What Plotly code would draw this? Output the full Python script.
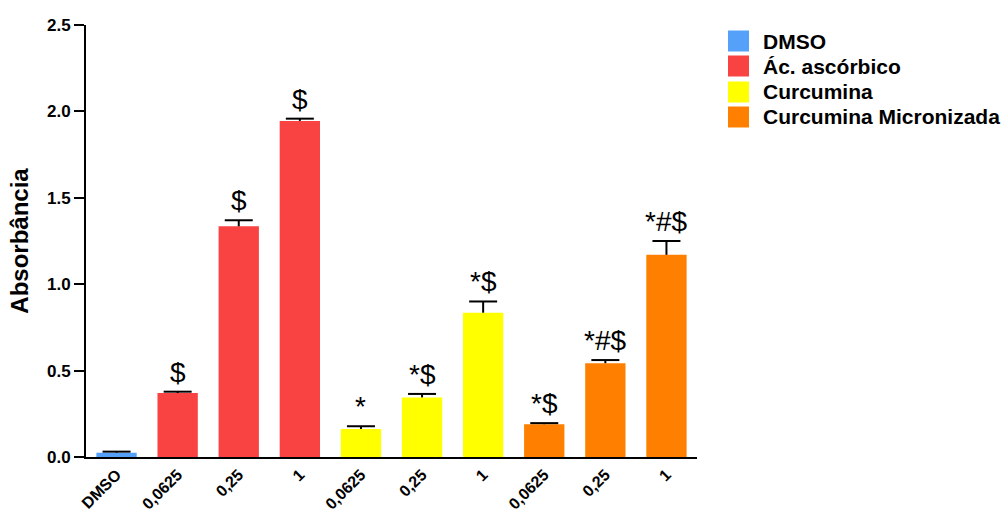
import plotly.graph_objects as go

groups = ["DMSO", "Ác. ascórbico", "Curcumina", "Curcumina Micronizada"]
colors = ["#55A0F8", "#F94242", "#FFFF00", "#FF8000"]
tick_labels = ["DMSO", "0,0625", "0,25", "1", "0,0625", "0,25", "1", "0,0625", "0,25", "1"]

dmso_vals = [0.025]
dmso_err = [0.006]
asc_vals = [0.37, 1.335, 1.945]
asc_err = [0.008, 0.035, 0.013]
cur_vals = [0.162, 0.345, 0.835]
cur_err = [0.016, 0.02, 0.065]
curm_vals = [0.19, 0.543, 1.17]
curm_err = [0.006, 0.018, 0.08]

dmso_sig = [""]
asc_sig = ["$", "$", "$"]
cur_sig = ["*", "*$", "*$"]
curm_sig = ["*$", "*#$", "*#$"]

series = [
    (dmso_vals, dmso_err, dmso_sig),
    (asc_vals, asc_err, asc_sig),
    (cur_vals, cur_err, cur_sig),
    (curm_vals, curm_err, curm_sig),
]

FONT = "Liberation Sans, Arial, sans-serif"
fig = go.Figure()
pos = 0
annotations = []
for name, color, (vals, errs, sigs) in zip(groups, colors, series):
    xs = list(range(pos, pos + len(vals)))
    pos += len(vals)
    fig.add_trace(go.Bar(
        x=xs, y=vals, name=name, marker=dict(color=color, line=dict(width=0)),
        width=0.66, showlegend=False,
        error_y=dict(type="data", array=errs, arrayminus=[0] * len(errs), symmetric=False,
                     color="black", thickness=2, width=0),
    ))
    # error bar caps (upper only)
    fig.add_trace(go.Scatter(
        x=xs, y=[v + e for v, e in zip(vals, errs)], mode="markers", showlegend=False,
        hoverinfo="skip",
        marker=dict(symbol="line-ew", size=20, line=dict(width=2, color="black"), color="black"),
    ))
    for x, v, e, s in zip(xs, vals, errs, sigs):
        if s:
            annotations.append(dict(x=x, y=v + e, text=s, showarrow=False, xref="x", yref="y",
                                    yanchor="bottom", yshift=2,
                                    font=dict(family=FONT, size=28, color="black")))

# custom legend
L, T, W = 86, 25, 611
H = 432
shapes = []
row_y = [41, 66, 92, 117]
for i, (name, color) in enumerate(zip(groups, colors)):
    cy = row_y[i]
    shapes.append(dict(type="rect", xref="paper", yref="paper",
                       x0=(728 - L) / W, x1=(749 - L) / W,
                       y0=(T + H - (cy + 10.5)) / H, y1=(T + H - (cy - 10.5)) / H,
                       fillcolor=color, line=dict(width=0)))
    annotations.append(dict(x=(761 - L) / W, y=(T + H - cy) / H, xref="paper", yref="paper",
                            text="<b>%s</b>" % name, showarrow=False, xanchor="left", yanchor="middle",
                            font=dict(family=FONT, size=21, color="black")))

fig.update_layout(
    width=1008, height=522,
    margin=dict(l=86, r=311, t=25, b=65),
    plot_bgcolor="white", paper_bgcolor="white",
    font=dict(family=FONT, color="black"),
    annotations=annotations, shapes=shapes,
    xaxis=dict(range=[-0.5, 9.5], tickmode="array", tickvals=list(range(10)),
               ticktext=["<b>%s</b>" % t for t in tick_labels], tickangle=-45,
               tickfont=dict(family=FONT, size=16), showline=True, linecolor="black", linewidth=2,
               ticks="", showgrid=False, zeroline=False, automargin=False),
    yaxis=dict(range=[0, 2.5], tickvals=[0, 0.5, 1.0, 1.5, 2.0, 2.5],
               ticktext=["<b>0.0</b>", "<b>0.5</b>", "<b>1.0</b>", "<b>1.5</b>", "<b>2.0</b>", "<b>2.5</b>"],
               tickfont=dict(family=FONT, size=17), showline=True, linecolor="black", linewidth=2,
               ticks="outside", ticklen=10, tickwidth=2, tickcolor="black", showgrid=False, zeroline=False,
               automargin=False,
               title=dict(text="<b>Absorbância</b>", font=dict(family=FONT, size=24), standoff=12)),
)

fig.write_html("out.html")
